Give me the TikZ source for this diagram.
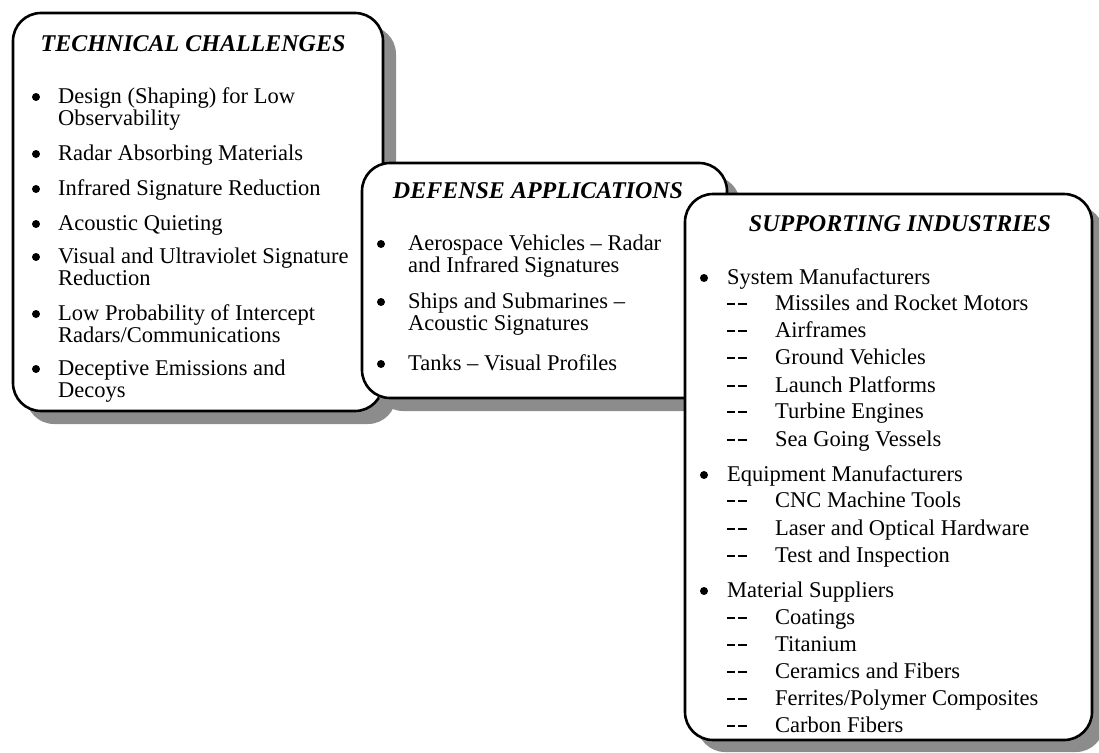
\documentclass[tikz,border=0pt]{standalone}
\usepackage{fontspec}
\setmainfont{Liberation Serif}
\tikzset{
  panel/.style={draw, line width=2.6pt, fill=white, rounded corners=28pt},
  boxshade/.style={fill=black!45, rounded corners=28pt},
  head/.style={anchor=base, inner sep=0pt, font=\fontsize{24}{28}\selectfont\bfseries\itshape},
  entry/.style={anchor=base west, inner sep=0pt, font=\fontsize{22.5}{24}\selectfont}
}
% the two short dashes in front of a sub-entry
\newcommand\dashpair{\rule[0.22em]{0.36em}{0.08em}\hspace{0.14em}\rule[0.22em]{0.36em}{0.08em}}
\newcommand\subentry{\makebox[48pt][l]{\dashpair}}
\begin{document}
\begin{tikzpicture}[x=1pt,y=-1pt]
  \useasboundingbox (0,0) rectangle (1099,752);
  % technical challenges
  \fill[boxshade] (26,26) rectangle (396,424);
  \draw[panel] (13,13) rectangle (383,411);
  \node[head] (tc) at (193,52) {TECHNICAL CHALLENGES};
  \foreach \y/\t [count=\i] in {103/{Design (Shaping) for Low}, 125/Observability,
      160/Radar Absorbing Materials, 195/Infrared Signature Reduction, 230/Acoustic Quieting,
      263/Visual and Ultraviolet Signature, 285/Reduction, 320/Low Probability of Intercept,
      342/{Radars/Communications}, 375/Deceptive Emissions and, 397/Decoys}
    \node[entry] (tc\i) at (58,\y) {\t};
  \foreach \y in {103,160,195,230,263,320,375}
    \fill (36,\y-6) circle (4pt);
  % defense applications
  \fill[boxshade] (375,176) rectangle (740,411);
  \draw[panel] (362,163) rectangle (727,398);
  \node[head] (da) at (538,198) {DEFENSE APPLICATIONS};
  \foreach \y/\t [count=\i] in {250/Aerospace Vehicles -- Radar, 272/and Infrared Signatures,
      308/Ships and Submarines --, 330/Acoustic Signatures, 370/Tanks -- Visual Profiles}
    \node[entry] (da\i) at (408,\y) {\t};
  \foreach \y in {250,308,370}
    \fill (381,\y-6) circle (4pt);
  % supporting industries
  \fill[boxshade] (697,206) rectangle (1104,752);
  \draw[panel] (685,194) rectangle (1092,740);
  \node[head] (si) at (900,231) {SUPPORTING INDUSTRIES};
  \foreach \y/\t [count=\i] in {284/System Manufacturers,
      310/\subentry Missiles and Rocket Motors, 337/\subentry Airframes,
      364/\subentry Ground Vehicles, 392/\subentry Launch Platforms,
      418/\subentry Turbine Engines, 446/\subentry Sea Going Vessels,
      481/Equipment Manufacturers, 507/\subentry CNC Machine Tools,
      535/\subentry Laser and Optical Hardware, 562/\subentry Test and Inspection,
      597/Material Suppliers, 624/\subentry Coatings, 651/\subentry Titanium,
      678/\subentry Ceramics and Fibers, 705/{\subentry Ferrites/Polymer Composites},
      732/\subentry Carbon Fibers}
    \node[entry] (si\i) at (727,\y) {\t};
  \foreach \y in {284,481,597}
    \fill (704,\y-6) circle (4pt);
\end{tikzpicture}
\end{document}
